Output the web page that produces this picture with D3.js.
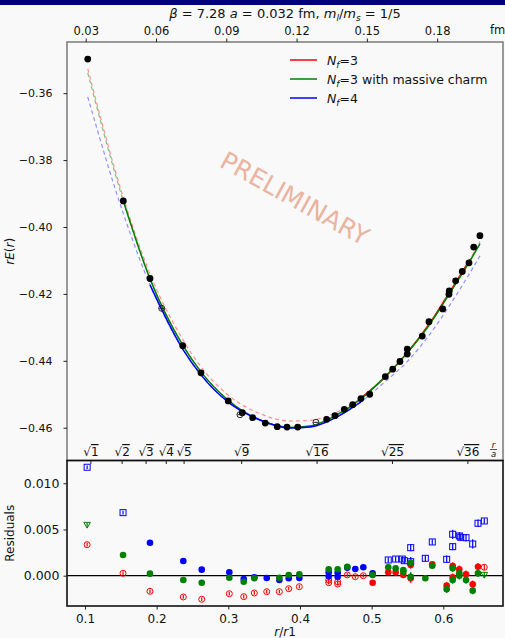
<!DOCTYPE html>
<html>
<head>
<meta charset="utf-8">
<title>rE(r) static potential</title>
<style>
body { margin: 0; background-color: #f9f9f9; }
svg text { font-family: "DejaVu Sans", sans-serif; }
</style>
</head>
<body>
<script src="https://d3js.org/d3.v7.min.js"></script>
<script>
var w = 505, h = 638;

// top panel data: r/a and rE(r)
var rA = [0.958, 1.430, 1.784, 2.218, 2.460, 2.822, 3.008, 3.146, 3.313, 3.472, 3.601, 3.743, 4.127, 4.237, 4.361, 4.472, 4.582, 4.698, 4.905, 5.003, 5.099, 5.196, 5.196, 5.395, 5.484, 5.666, 5.749, 5.753, 5.838, 5.926, 6.015, 6.077, 6.160];
var rE = [-0.3498, -0.3922, -0.4154, -0.4355, -0.4436, -0.4520, -0.4555, -0.4570, -0.4586, -0.4597, -0.4598, -0.4598, -0.4575, -0.4564, -0.4545, -0.4531, -0.4513, -0.4500, -0.4447, -0.4425, -0.4402, -0.4380, -0.4365, -0.4326, -0.4283, -0.4245, -0.4201, -0.4191, -0.4161, -0.4133, -0.4107, -0.4060, -0.4026];
// off-axis points (open)
var offRA = [1.939, 2.977, 3.985];
var offE = [-0.4243, -0.4561, -0.4584];

// fit curves, read at these r/a
var curveRA = [0.958, 1.43, 1.784, 2.218, 2.46, 2.818, 3.243, 3.641, 3.906, 4.237, 4.582, 4.9, 5.192, 5.497, 5.762, 6.028, 6.161];
var fitNf3 = [-0.3527, -0.3912, -0.4140, -0.4336, -0.4418, -0.4502, -0.4558, -0.4580, -0.4578, -0.4556, -0.4511, -0.4449, -0.4377, -0.4287, -0.4193, -0.4097, -0.4043];
var fitCharm = [-0.3539, -0.3922, -0.4155, -0.4353, -0.4433, -0.4517, -0.4577, -0.4599, -0.4595, -0.4565, -0.4514, -0.4448, -0.4377, -0.4290, -0.4197, -0.4101, -0.4050];
var fitNf4 = [-0.3611, -0.3960, -0.4173, -0.4365, -0.4442, -0.4523, -0.4577, -0.4601, -0.4598, -0.4571, -0.4523, -0.4463, -0.4403, -0.4320, -0.4233, -0.4137, -0.4086];
// fit ranges (r/a) drawn solid
var rangeNf3 = [4.582, 6.028];
var rangeCharm = [1.43, 6.161];
var rangeNf4 = [1.784, 4.582];

var topYTicks = [-0.46, -0.44, -0.42, -0.40, -0.38, -0.36];
var fmTicks = [0.03, 0.06, 0.09, 0.12, 0.15, 0.18];
var sqrtTicks = [1, 2, 3, 4, 5, 9, 16, 25, 36];

// residuals: [r/r1, residual, error]
var redOpen = [[0.1030, 0.00335, 0.0002], [0.1531, 0.00026, 0.0002], [0.1907, -0.00169, 0.0002], [0.2372, -0.00230, 0.0002], [0.2629, -0.00255, 0.0002], [0.3014, -0.00195, 0.0002], [0.3215, -0.00227, 0.0002], [0.3363, -0.00187, 0.0002], [0.3536, -0.00173, 0.0002], [0.3712, -0.00173, 0.0002], [0.3843, -0.00141, 0.0002], [0.3991, -0.00119, 0.0002], [0.4401, -0.00047, 0.0002], [0.4401, -0.00076, 0.0002], [0.4526, -0.00065, 0.0002], [0.4526, -0.00090, 0.0002], [0.4660, 0.00008, 0.0002], [0.4772, -0.00011, 0.0002], [0.4884, 0.00000, 0.0002], [0.6572, 0.00091, 0.0003]];
var redFill = [[0.5014, -0.00076, 0.0002], [0.5232, 0.00037, 0.0003], [0.5335, 0.00037, 0.0003], [0.5442, 0.00008, 0.0003], [0.5545, 0.00116, 0.0004], [0.5545, -0.00028, 0.0005], [0.5846, 0.00123, 0.0003], [0.6047, -0.00108, 0.0004], [0.6131, 0.00105, 0.0004], [0.6131, -0.00017, 0.0004], [0.6223, 0.00069, 0.0004], [0.6317, 0.00015, 0.0004], [0.6410, -0.00093, 0.0004], [0.6484, 0.00097, 0.0004]];
var greenFill = [[0.1531, 0.00224, 0.0001], [0.1907, 0.00022, 0.0001], [0.2372, -0.00047, 0.0001], [0.2629, -0.00076, 0.0001], [0.3014, -0.00022, 0.0001], [0.3215, -0.00065, 0.0001], [0.3363, -0.00028, 0.0001], [0.3712, -0.00022, 0.0001], [0.3843, 0.00008, 0.0001], [0.3991, 0.00015, 0.0001], [0.4401, 0.00069, 0.0002], [0.4526, 0.00069, 0.0002], [0.4660, 0.00097, 0.0002], [0.5014, 0.00008, 0.0002], [0.5232, 0.00091, 0.0003], [0.5335, 0.00080, 0.0003], [0.5442, 0.00062, 0.0003], [0.5442, 0.00043, 0.0003], [0.5545, 0.00140, 0.0004], [0.5545, -0.00011, 0.0005], [0.5749, -0.00028, 0.0003], [0.5846, 0.00108, 0.0003], [0.6047, -0.00147, 0.0004], [0.6131, 0.00080, 0.0004], [0.6131, -0.00047, 0.0004], [0.6223, 0.00026, 0.0004], [0.6223, 0.00000, 0.0004], [0.6317, -0.00047, 0.0004], [0.6410, -0.00162, 0.0004], [0.6484, 0.00026, 0.0004]];
var greenTri = [[0.1030, 0.00549, 0.0002], [0.6572, 0.00008, 0.0003]];
var blueFill = [[0.1907, 0.00357, 0.0001], [0.2372, 0.00159, 0.0001], [0.2629, 0.00065, 0.0001], [0.3014, 0.00037, 0.0001], [0.3215, -0.00036, 0.0001], [0.3363, -0.00017, 0.0001], [0.3536, -0.00025, 0.0001], [0.3712, -0.00047, 0.0001], [0.3843, -0.00028, 0.0001], [0.3991, -0.00025, 0.0001], [0.4401, 0.00037, 0.0002], [0.4401, -0.00007, 0.0002], [0.4526, 0.00032, 0.0002], [0.4526, -0.00011, 0.0002], [0.4660, 0.00087, 0.0002], [0.4772, 0.00072, 0.0002], [0.4884, 0.00091, 0.0002], [0.5014, 0.00026, 0.0002]];
var blueSq = [[0.1030, 0.01173, 0.0002], [0.1531, 0.00682, 0.0002], [0.5232, 0.00170, 0.0003], [0.5335, 0.00180, 0.0003], [0.5428, 0.00180, 0.0003], [0.5456, 0.00162, 0.0003], [0.5545, 0.00303, 0.0004], [0.5545, 0.00151, 0.0005], [0.5749, 0.00188, 0.0003], [0.5846, 0.00365, 0.0003], [0.6047, 0.00177, 0.0004], [0.6131, 0.00448, 0.0005], [0.6131, 0.00314, 0.0004], [0.6223, 0.00430, 0.0004], [0.6243, 0.00415, 0.0004], [0.6317, 0.00411, 0.0004], [0.6410, 0.00343, 0.0005], [0.6484, 0.00567, 0.0004], [0.6572, 0.00592, 0.0003]];
var resYTicks = [0.000, 0.005, 0.010];
var resXTicks = [0.1, 0.2, 0.3, 0.4, 0.5, 0.6];

var L = 67, R = 503, topT = 42, topB = 460.5, botT = 460.5, botB = 606;

var xRA = d3.scaleLinear().domain([0.683, 6.466]).range([L, R]);
var xFm = d3.scaleLinear().domain([0.02202, 0.2081]).range([L, R]);
var xRR = d3.scaleLinear().domain([0.0749, 0.6833]).range([L, R]);
var yTop = d3.scaleLinear().domain([-0.4698, -0.3447]).range([topB, topT]);
var yRes = d3.scaleLinear().domain([-0.00328, 0.01246]).range([botB, botT]);

var svg = d3.select("body").append("svg")
    .attr("width", w).attr("height", h);

svg.append("rect").attr("width", w).attr("height", h).attr("fill", "#f9f9f9");
svg.append("rect").attr("width", w).attr("height", 5).attr("fill", "#00007c");

var defs = svg.append("defs");
defs.append("clipPath").attr("id", "clipTop").append("rect")
    .attr("x", L).attr("y", topT).attr("width", R - L).attr("height", topB - topT);
defs.append("clipPath").attr("id", "clipBot").append("rect")
    .attr("x", L).attr("y", botT).attr("width", R - L).attr("height", botB - botT);

// title
var title = svg.append("text").attr("x", 285).attr("y", 18)
    .attr("text-anchor", "middle").attr("font-size", 13).attr("fill", "#111");
title.append("tspan").attr("font-style", "italic").text("β");
title.append("tspan").text(" = 7.28 ");
title.append("tspan").attr("font-style", "italic").text("a");
title.append("tspan").text(" = 0.032 fm, ");
title.append("tspan").attr("font-style", "italic").text("m");
title.append("tspan").attr("font-style", "italic").attr("font-size", 9).attr("dy", 3).text("l");
title.append("tspan").attr("dy", -3).text("/");
title.append("tspan").attr("font-style", "italic").text("m");
title.append("tspan").attr("font-style", "italic").attr("font-size", 9).attr("dy", 3).text("s");
title.append("tspan").attr("dy", -3).text(" = 1/5");

// ---- top panel ----
var topG = svg.append("g");

// watermark
topG.append("text")
    .attr("transform", "translate(294,200) rotate(29)")
    .attr("text-anchor", "middle").attr("dominant-baseline", "middle")
    .attr("font-size", 25).attr("fill", "#eab4a0")
    .text("PRELIMINARY");

var plotTop = topG.append("g").attr("clip-path", "url(#clipTop)");

function fitCurve(vals, range, col, dashCol) {
  var pts = curveRA.map(function(r, i) { return [r, vals[i]]; });
  var line = d3.line()
      .x(function(d) { return xRA(d[0]); })
      .y(function(d) { return yTop(d[1]); })
      .curve(d3.curveMonotoneX);
  plotTop.append("path").attr("d", line(pts))
      .attr("fill", "none").attr("stroke", dashCol)
      .attr("stroke-width", 1.2).attr("stroke-dasharray", "4,3");
  var solid = pts.filter(function(d) { return d[0] >= range[0] - 1e-6 && d[0] <= range[1] + 1e-6; });
  plotTop.append("path").attr("d", line(solid))
      .attr("fill", "none").attr("stroke", col).attr("stroke-width", 1.5);
}
fitCurve(fitNf3, rangeNf3, "#ff0000", "#ff9090");
fitCurve(fitCharm, rangeCharm, "#008000", "#80bf80");
fitCurve(fitNf4, rangeNf4, "#0000ff", "#9090ff");

// data points
plotTop.selectAll("circle.pt")
    .data(rA)
    .enter()
    .append("circle")
    .attr("class", "pt")
    .attr("cx", function(d) { return xRA(d); })
    .attr("cy", function(d, i) { return yTop(rE[i]); })
    .attr("r", 3.4)
    .attr("fill", "#000");

var off = plotTop.selectAll("g.off").data(offRA).enter().append("g")
    .attr("transform", function(d, i) { return "translate(" + xRA(d) + "," + yTop(offE[i]) + ")"; });
off.append("circle").attr("r", 3).attr("fill", "none").attr("stroke", "#222").attr("stroke-width", 1);
off.append("line").attr("x1", -2.5).attr("x2", 2.5).attr("stroke", "#222").attr("stroke-width", 1);

// legend
var legItems = [["#ff0000", ""], ["#008000", " with massive charm"], ["#0000ff", ""]];
var legNum = ["3", "3", "4"];
legItems.forEach(function(it, i) {
  var ly = 60 + i * 19;
  topG.append("line").attr("x1", 290).attr("x2", 317).attr("y1", ly).attr("y2", ly)
      .attr("stroke", it[0]).attr("stroke-width", 1.5);
  var t = topG.append("text").attr("x", 327).attr("y", ly + 4.5).attr("font-size", 12.5).attr("fill", "#111");
  t.append("tspan").attr("font-style", "italic").text("N");
  t.append("tspan").attr("font-style", "italic").attr("font-size", 9).attr("dy", 3).text("f");
  t.append("tspan").attr("dy", -3).text("=" + legNum[i] + it[1]);
});

// top frame
svg.append("rect").attr("x", L).attr("y", topT).attr("width", R - L).attr("height", topB - topT)
    .attr("fill", "none").attr("stroke", "#7a7a7a").attr("stroke-width", 1.5);

// top y axis
var ayTop = svg.append("g").attr("transform", "translate(" + L + ",0)")
    .call(d3.axisLeft(yTop).tickValues(topYTicks).tickSize(3.5).tickPadding(11)
          .tickFormat(d3.format(".2f")));
// fm axis
var axFm = svg.append("g").attr("transform", "translate(0," + topT + ")")
    .call(d3.axisTop(xFm).tickValues(fmTicks).tickSize(3.5).tickPadding(4)
          .tickFormat(d3.format(".2f")));
svg.append("text").attr("x", 490).attr("y", 34).attr("font-size", 11.5).attr("fill", "#111").text("fm");

var ylab = svg.append("text").attr("transform", "translate(14," + ((topT + topB) / 2) + ") rotate(-90)")
    .attr("text-anchor", "middle").attr("font-size", 12).attr("fill", "#111");
ylab.append("tspan").attr("font-style", "italic").text("rE");
ylab.append("tspan").text("(");
ylab.append("tspan").attr("font-style", "italic").text("r");
ylab.append("tspan").text(")");

// ---- bottom panel ----
var plotBot = svg.append("g").attr("clip-path", "url(#clipBot)");

plotBot.append("line").attr("x1", L).attr("x2", R)
    .attr("y1", yRes(0)).attr("y2", yRes(0))
    .attr("stroke", "#000").attr("stroke-width", 1.3);

function errBars(data, col) {
  plotBot.selectAll(null).data(data).enter().append("line")
      .attr("x1", function(d) { return xRR(d[0]); })
      .attr("x2", function(d) { return xRR(d[0]); })
      .attr("y1", function(d) { return yRes(d[1] - d[2]); })
      .attr("y2", function(d) { return yRes(d[1] + d[2]); })
      .attr("stroke", col).attr("stroke-width", 1.2);
}
function dots(data, col, filled) {
  errBars(data, col);
  plotBot.selectAll(null).data(data).enter().append("circle")
      .attr("cx", function(d) { return xRR(d[0]); })
      .attr("cy", function(d) { return yRes(d[1]); })
      .attr("r", filled ? 3.3 : 3)
      .attr("fill", filled ? col : "none")
      .attr("stroke", col).attr("stroke-width", filled ? 0 : 1);
}
function squares(data, col) {
  errBars(data, col);
  plotBot.selectAll(null).data(data).enter().append("rect")
      .attr("x", function(d) { return xRR(d[0]) - 3; })
      .attr("y", function(d) { return yRes(d[1]) - 3; })
      .attr("width", 6).attr("height", 6)
      .attr("fill", "none").attr("stroke", col).attr("stroke-width", 1);
}
function triangles(data, col) {
  errBars(data, col);
  plotBot.selectAll(null).data(data).enter().append("path")
      .attr("d", function(d) {
        var x = xRR(d[0]), y = yRes(d[1]);
        return "M" + (x - 3.3) + "," + (y - 2.6) + "L" + (x + 3.3) + "," + (y - 2.6) + "L" + x + "," + (y + 3.2) + "Z";
      })
      .attr("fill", "none").attr("stroke", col).attr("stroke-width", 1);
}

dots(redOpen, "#ff0000", false);
dots(redFill, "#ff0000", true);
squares(blueSq, "#0000ff");
dots(blueFill, "#0000ff", true);
triangles(greenTri, "#008000");
dots(greenFill, "#008000", true);

svg.append("rect").attr("x", L).attr("y", botT).attr("width", R - L).attr("height", botB - botT)
    .attr("fill", "none").attr("stroke", "#111").attr("stroke-width", 1.6);

var ayRes = svg.append("g").attr("transform", "translate(" + L + ",0)")
    .call(d3.axisLeft(yRes).tickValues(resYTicks).tickSize(3.5).tickPadding(4)
          .tickFormat(d3.format(".3f")));
var axRes = svg.append("g").attr("transform", "translate(0," + botB + ")")
    .call(d3.axisBottom(xRR).tickValues(resXTicks).tickSize(3.5).tickPadding(5)
          .tickFormat(d3.format(".1f")));

[ayTop, axFm, ayRes, axRes].forEach(function(g) {
  g.select(".domain").remove();
  g.selectAll("text").attr("font-size", 12).attr("fill", "#111")
      .style("font-family", "'DejaVu Sans', sans-serif");
  g.selectAll("line").attr("stroke", "#222").attr("stroke-width", 1);
});
axFm.selectAll("text").attr("font-size", 11.5);
ayTop.selectAll("text").attr("font-size", 11);
ayRes.selectAll("text").attr("font-size", 12.5);

// sqrt(n) ticks along top of residual panel
var sq = svg.append("g");
sqrtTicks.forEach(function(n) {
  var x = xRA(Math.sqrt(n));
  sq.append("line").attr("x1", x).attr("x2", x).attr("y1", botT).attr("y2", botT + 3.5)
      .attr("stroke", "#222").attr("stroke-width", 1);
  var t = sq.append("text").attr("x", x).attr("y", 456).attr("text-anchor", "middle")
      .attr("font-size", 12).attr("fill", "#111");
  t.append("tspan").text("√");
  t.append("tspan").style("text-decoration", "overline").text(n);
});
svg.append("text").attr("x", 493.5).attr("y", 447.5).attr("text-anchor", "middle")
    .attr("font-size", 8.5).attr("font-style", "italic").attr("fill", "#111").text("r");
svg.append("line").attr("x1", 490).attr("x2", 497).attr("y1", 449.5).attr("y2", 449.5)
    .attr("stroke", "#111").attr("stroke-width", 0.7);
svg.append("text").attr("x", 493.5).attr("y", 456.5).attr("text-anchor", "middle")
    .attr("font-size", 8.5).attr("font-style", "italic").attr("fill", "#111").text("a");

var xlab = svg.append("text").attr("x", 285).attr("y", 636).attr("text-anchor", "middle")
    .attr("font-size", 12).attr("fill", "#111");
xlab.append("tspan").attr("font-style", "italic").text("r");
xlab.append("tspan").text("/");
xlab.append("tspan").attr("font-style", "italic").text("r");
xlab.append("tspan").text("1");

svg.append("text").attr("transform", "translate(14," + ((botT + botB) / 2) + ") rotate(-90)")
    .attr("text-anchor", "middle").attr("font-size", 12).attr("fill", "#111")
    .text("Residuals");
</script>
</body>
</html>
